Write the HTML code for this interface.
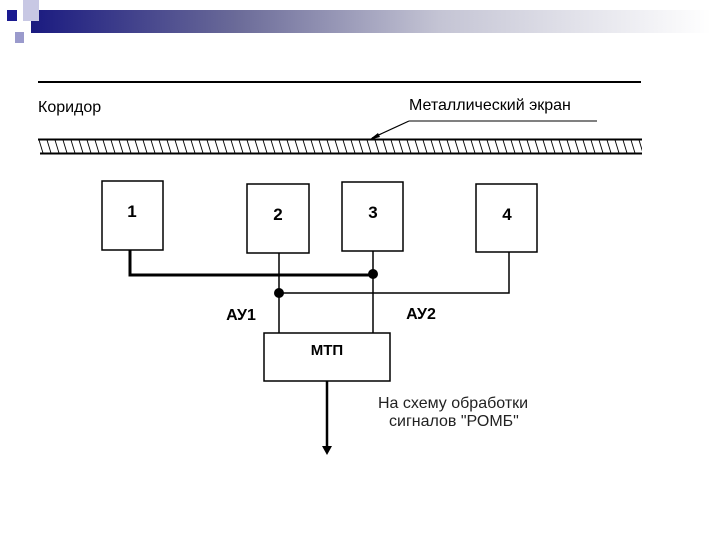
<!DOCTYPE html>
<html><head><meta charset="utf-8"><style>
html,body{margin:0;padding:0;background:#fff;}
svg{display:block;}
text{font-family:"Liberation Sans",sans-serif;}
</style></head><body>
<svg width="720" height="540" viewBox="0 0 720 540" xmlns="http://www.w3.org/2000/svg">
<defs>
<linearGradient id="g" x1="0" x2="1" y1="0" y2="0">
<stop offset="0" stop-color="#1a1a80"/>
<stop offset="0.3" stop-color="#6a6a98"/>
<stop offset="0.6" stop-color="#c4c4d4"/>
<stop offset="1" stop-color="#ffffff"/>
</linearGradient>
<pattern id="h" x="38" y="140" width="8" height="13" patternUnits="userSpaceOnUse">
<line x1="1" y1="0" x2="5" y2="13" stroke="#000" stroke-width="0.9"/>
</pattern>
</defs>
<rect x="31" y="10" width="680" height="23" fill="url(#g)"/>
<rect x="23" y="0" width="16" height="21" fill="#c8c8e4"/>
<rect x="7" y="10" width="10" height="11" fill="#1a1a90"/>
<rect x="15" y="32" width="9" height="11" fill="#9a9acc"/>
<line x1="38" y1="82" x2="641" y2="82" stroke="#000" stroke-width="2"/>
<text x="38" y="112" font-size="16">Коридор</text>
<text x="409" y="110" font-size="16">Металлический экран</text>
<line x1="409" y1="121" x2="597" y2="121" stroke="#000" stroke-width="1"/>
<line x1="409" y1="121" x2="372" y2="138" stroke="#000" stroke-width="1.2"/>
<polygon points="369,140 378,133 380,137" fill="#000"/>
<rect x="38" y="140" width="604" height="13" fill="url(#h)"/>
<line x1="38" y1="139.5" x2="642" y2="139.5" stroke="#000" stroke-width="2"/>
<line x1="40" y1="153.5" x2="642" y2="153.5" stroke="#000" stroke-width="2"/>
<g fill="#fff" stroke="#000" stroke-width="1.5">
<rect x="102" y="181" width="61" height="69"/>
<rect x="247" y="184" width="62" height="69"/>
<rect x="342" y="182" width="61" height="69"/>
<rect x="476" y="184" width="61" height="68"/>
<rect x="264" y="333" width="126" height="48"/>
</g>
<g font-size="17" font-weight="bold" text-anchor="middle">
<text x="132" y="217">1</text>
<text x="278" y="220">2</text>
<text x="373" y="218">3</text>
<text x="507" y="220">4</text>
<text x="327" y="355" font-size="15">МТП</text>
<text x="241" y="320" font-size="16">АУ1</text>
<text x="421" y="319" font-size="16">АУ2</text>
</g>
<g stroke="#000" fill="none">
<polyline points="130,250 130,275 373,275" stroke-width="3"/>
<line x1="279" y1="253" x2="279" y2="333" stroke-width="1.5"/>
<line x1="373" y1="251" x2="373" y2="333" stroke-width="1.5"/>
<polyline points="279,293 509,293 509,252" stroke-width="1.5"/>
<line x1="327" y1="381" x2="327" y2="448" stroke-width="2.5"/>
</g>
<circle cx="373" cy="274" r="5" fill="#000"/>
<circle cx="279" cy="293" r="5" fill="#000"/>
<polygon points="322,446 332,446 327,455" fill="#000"/>
<text x="378" y="408" font-size="16" fill="#222">На схему обработки</text>
<text x="389" y="426" font-size="16" fill="#222">сигналов "РОМБ"</text>
</svg>
</body></html>
